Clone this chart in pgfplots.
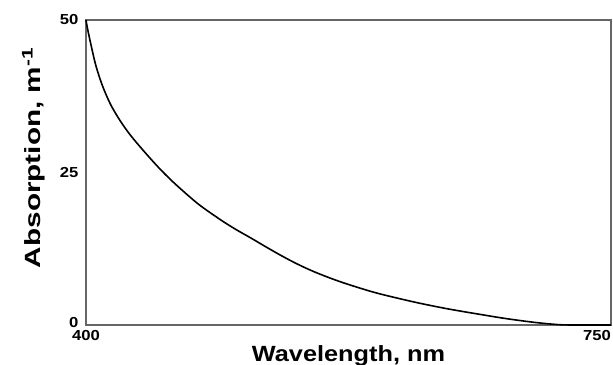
\documentclass[border=0pt]{standalone}
\usepackage{fontspec}
\setmainfont{Liberation Sans}
\usepackage{pgfplots}
\pgfplotsset{compat=1.18}
\newcommand{\tl}[1]{\scalebox{1.15}[1]{#1}}
\begin{document}
\begin{tikzpicture}
\begin{axis}[
  name=ax,
  scale only axis,
  width=525pt, height=305pt,
  xmin=400, xmax=750, ymin=0, ymax=50,
  xtick={400,750},
  xticklabels={\tl{400},\makebox[0pt][r]{\tl{750}}},
  ytick={0,25,50},
  yticklabels={\raisebox{6pt}{\tl{0}},\raisebox{-6pt}{\tl{25}},\raisebox{-5pt}{\tl{50}}},
  major tick length=0pt,
  axis line style={draw=black!60, line width=1.3pt},
  tick label style={font=\fontsize{14.5}{16}\selectfont\bfseries},
  yticklabel style={xshift=-4pt},
  xticklabel style={yshift=-2pt},
  xlabel={\scalebox{1.15}[1]{Wavelength, nm}},
  ylabel={\scalebox{1.35}[1]{Absorption, m\textsuperscript{-1}}},
  label style={font=\fontsize{22}{24}\selectfont\bfseries},
  xlabel style={at={(axis description cs:0.5,0)}, anchor=north, yshift=-17pt},
  ylabel style={at={(axis description cs:-0.072,0.548)}, anchor=south},
  clip=false,
]
\addplot[black, line width=1.6pt, smooth, tension=0.5] coordinates {
(400,50) (401,48.6) (403,46.3) (406.5,42.6) (411,39.2) (416.5,36.1)
(423,33.4) (430,31.0) (440,28.1) (450,25.4) (460,23.0) (475,19.8)
(490,17.2) (500,15.65) (510,14.25) (520,12.8) (530,11.4) (540,10.1)
(550,8.95) (560,7.95) (570,7.05) (580,6.25) (590,5.5) (600,4.85)
(620,3.7) (640,2.7) (660,1.85) (680,1.05) (700,0.4) (715,0.06) (725,0) (750,0)
};
\end{axis}
\pgfresetboundingbox
\path ([shift={(-86pt,-40pt)}]ax.south west) rectangle ([shift={(2pt,20pt)}]ax.north east);
\end{tikzpicture}
\end{document}
